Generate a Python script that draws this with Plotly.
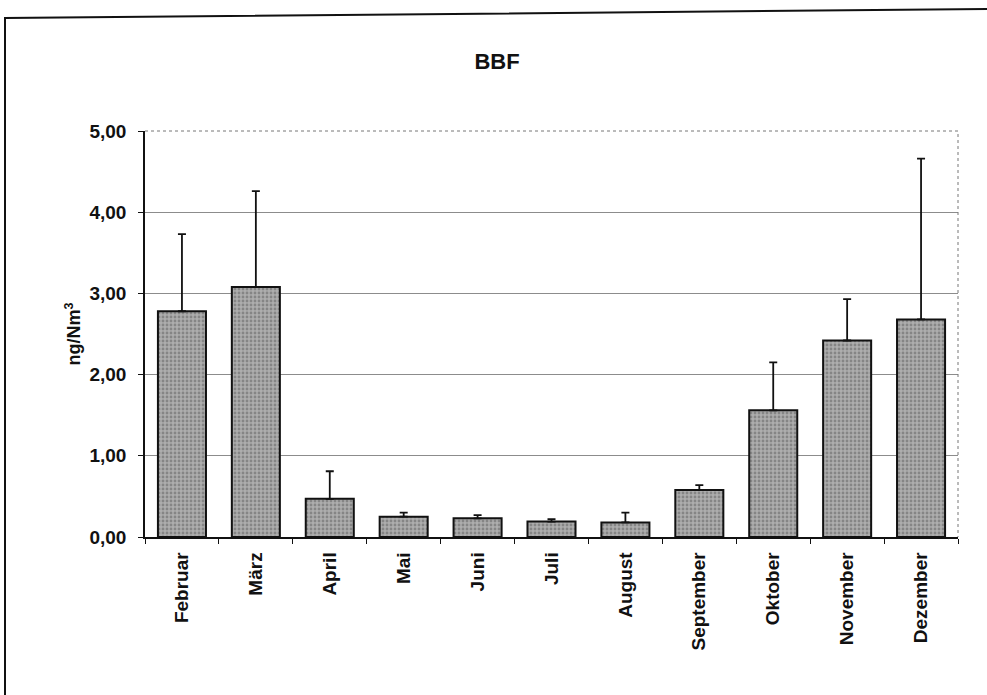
import plotly.graph_objects as go

# Monthly BBF concentrations (ng/Nm³) with upper standard deviation
months = ["Februar", "März", "April", "Mai", "Juni", "Juli", "August",
          "September", "Oktober", "November", "Dezember"]
means = [2.78, 3.08, 0.47, 0.25, 0.23, 0.19, 0.18, 0.58, 1.56, 2.42, 2.68]
upper_err = [0.95, 1.18, 0.34, 0.05, 0.04, 0.03, 0.12, 0.06, 0.59, 0.51, 1.98]
y_ticks = [0, 1, 2, 3, 4, 5]

W, H = 987, 695
L, R, T, B = 145, 29, 131, 158
pw, ph = W - L - R, H - T - B


def px(x):
    return (x - L) / pw


def py(y):
    return (H - B - y) / ph


FONT = "Liberation Sans, Arial, sans-serif"

fig = go.Figure()
fig.add_trace(go.Bar(
    x=months, y=means,
    marker=dict(
        color="#a0a0a0",
        line=dict(color="#111", width=2),
        pattern=dict(shape=".", fgcolor="#5e5e5e", bgcolor="#adadad",
                     size=4, solidity=0.4),
    ),
    error_y=dict(type="data", symmetric=False, array=upper_err,
                 arrayminus=[0] * len(means), color="#111",
                 thickness=1.8, width=4),
))

fig.update_layout(
    width=W, height=H,
    margin=dict(l=L, r=R, t=T, b=B),
    paper_bgcolor="white", plot_bgcolor="white",
    separators=",.",
    bargap=0.35,
    showlegend=False,
    font=dict(family=FONT, color="#111"),
    title=dict(text="BBF", x=497 / W, xanchor="center",
               y=1 - 61 / H, yanchor="middle",
               font=dict(size=22, weight="bold")),
    xaxis=dict(
        tickangle=-90, tickfont=dict(size=19, weight="bold"),
        ticks="outside", ticklen=5, tickson="boundaries", tickcolor="#111",
        ticklabelstandoff=6,
        showline=True, linecolor="#111", linewidth=1.5,
        showgrid=False, range=[-0.5, 10.5],
    ),
    yaxis=dict(
        range=[0, 5], tickvals=y_ticks, tickformat=".2f",
        tickfont=dict(size=19, weight="bold"), ticks="outside", ticklen=5,
        tickcolor="#111", ticklabelstandoff=8,
        showline=True, linecolor="#111", linewidth=1.5,
        showgrid=True, gridcolor="#8c8c8c", gridwidth=1,
        title=dict(text="ng/Nm<sup>3</sup>",
                   font=dict(size=18, weight="bold"), standoff=4),
        zeroline=False,
    ),
    shapes=[
        # dotted frame along the top and right of the plot area
        dict(type="path", xref="paper", yref="paper",
             path="M 0 1 L 1 1 L 1 0",
             line=dict(color="#777", width=1, dash="dot")),
        # outer chart frame
        dict(type="path", xref="paper", yref="paper",
             path=f"M {px(5)} {py(H + 5)} L {px(5)} {py(18)} L {px(W + 5)} {py(9)}",
             line=dict(color="#111", width=2)),
    ],
)

fig.write_html("out.html")
